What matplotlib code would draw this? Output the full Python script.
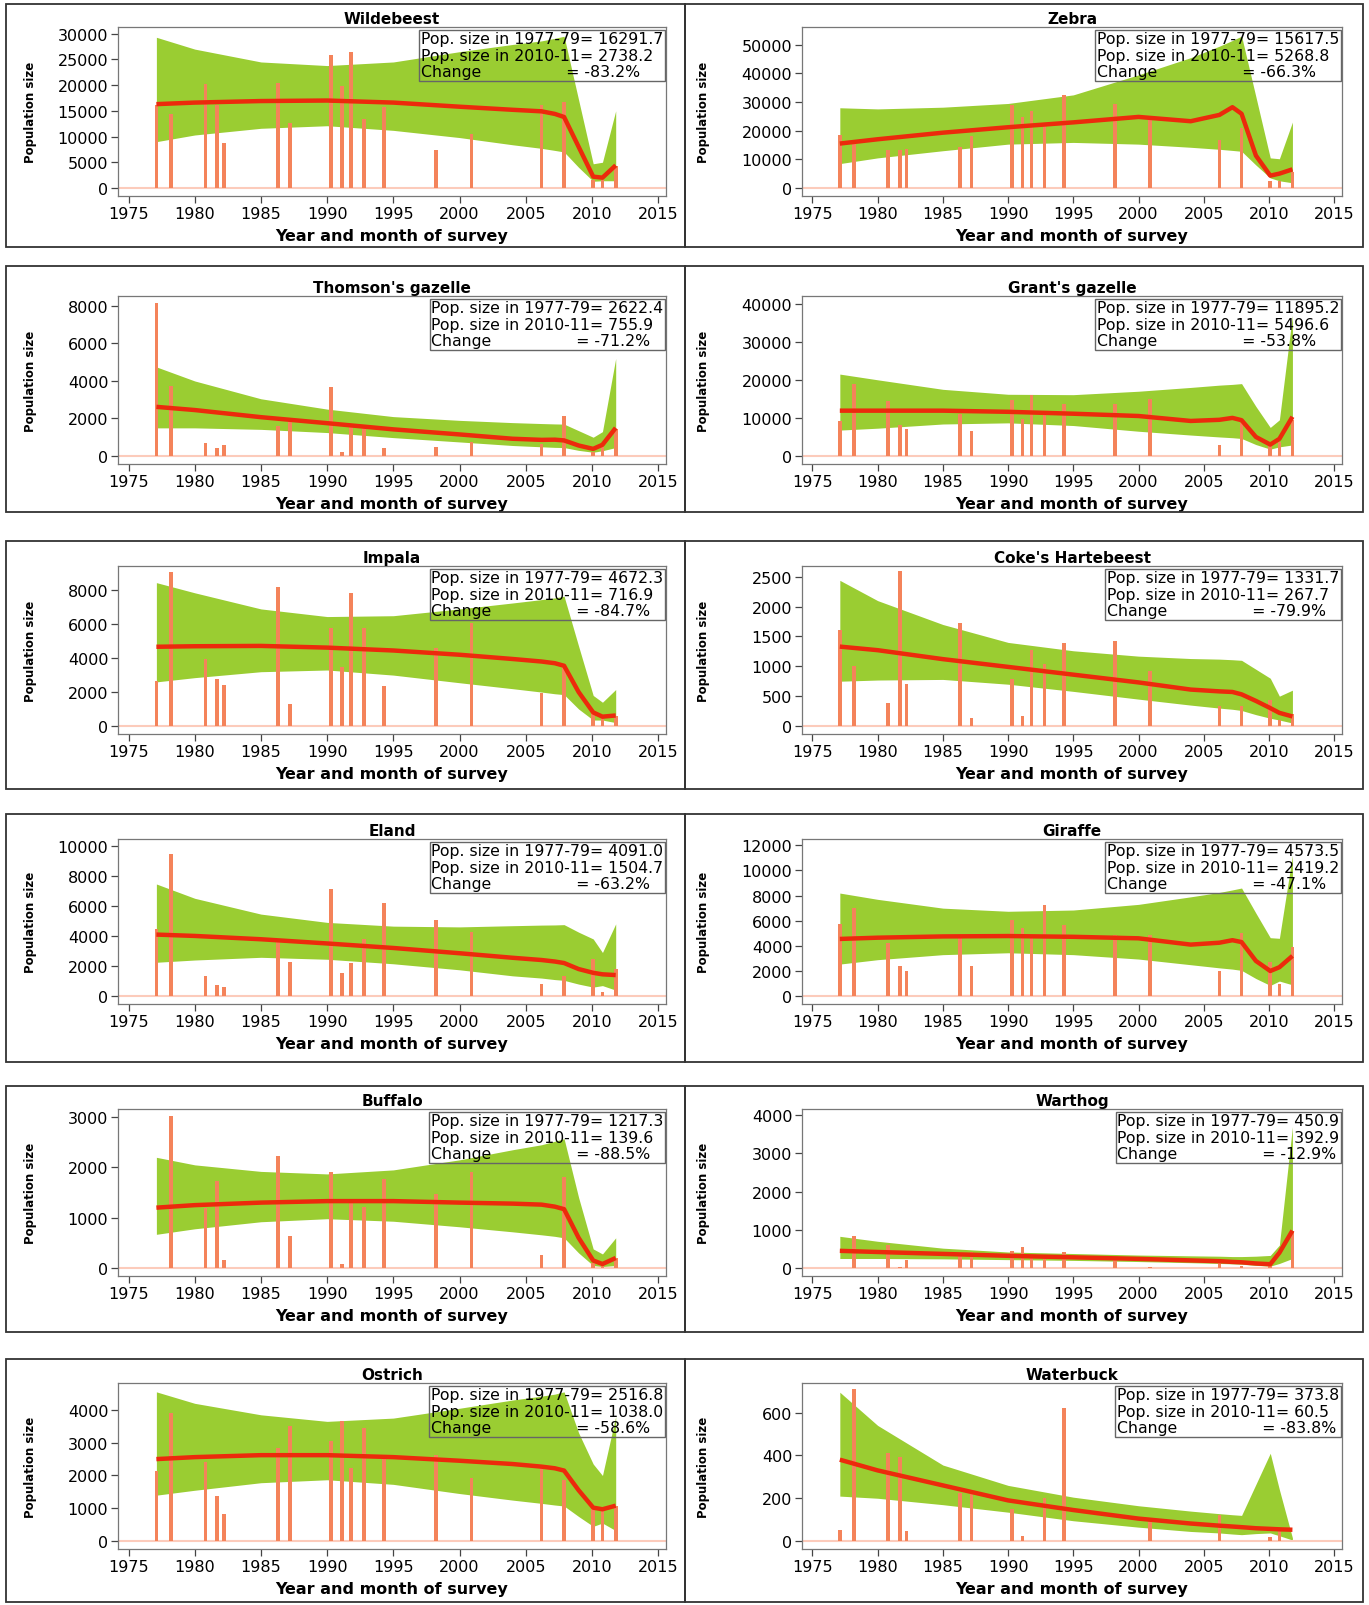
import matplotlib.pyplot as plt
from matplotlib.patches import Rectangle
import numpy as np

plt.rcParams['font.family'] = ['DejaVu Sans']

# survey dates shared by all species (decimal years)
SURVEY_YEARS = [1977.1, 1978.2, 1980.8, 1981.7, 1982.2, 1986.3, 1987.2, 1990.3, 1991.1,
                1991.8, 1992.8, 1994.3, 1998.2, 2000.9, 2006.2, 2007.9, 2010.1, 2010.8, 2011.8]
CURVE_YEARS = [1977.1, 1980, 1985, 1990, 1995, 2000, 2004, 2006.2, 2007.2, 2007.9,
               2009, 2010.1, 2010.8, 2011.8]

SPECIES = ["Wildebeest", "Zebra", "Thomson's gazelle", "Grant's gazelle", "Impala",
           "Coke's Hartebeest", "Eland", "Giraffe", "Buffalo", "Warthog", "Ostrich", "Waterbuck"]

# survey counts
wildebeest_counts = [16100, 14350, 20200, 16100, 8800, 20500, 12600, 25900, 19800, 26400, 13500, 15700, 7300, 10400, 16100, 16800, 1500, 1500, 4300]
zebra_counts = [18500, 15300, 13100, 13100, 13600, 14200, 18300, 29000, 24700, 26700, 21600, 32300, 29400, 24100, 16900, 20900, 2600, 2600, 5500]
thomson_counts = [8180, 3750, 700, 420, 600, 1600, 1900, 3700, 230, 1550, 1550, 420, 480, 750, 650, 2150, 200, 500, 1450]
grant_counts = [9200, 18800, 14400, 8100, 7200, 11000, 6500, 14800, 9700, 16100, 11600, 13600, 13700, 15000, 2900, 8700, 2900, 3700, 9400]
impala_counts = [2670, 9080, 3940, 2750, 2400, 8200, 1270, 5800, 3500, 7840, 5760, 2350, 4570, 6080, 1960, 3500, 800, 600, 600]
coke_counts = [1610, 1010, 380, 2600, 700, 1720, 140, 780, 160, 1270, 1040, 1390, 1430, 920, 330, 340, 440, 100, 200]
eland_counts = [4460, 9450, 1360, 740, 600, 3650, 2280, 7150, 1530, 2200, 3800, 6170, 5080, 4250, 790, 1310, 2500, 300, 1800]
giraffe_counts = [5700, 7000, 4250, 2360, 2000, 4780, 2400, 6040, 5430, 4780, 7270, 5640, 4900, 4900, 2000, 5000, 2700, 1000, 3940]
buffalo_counts = [0, 3030, 1200, 1720, 150, 2230, 630, 1900, 85, 1330, 1220, 1760, 1480, 1900, 260, 1810, 100, 50, 200]
warthog_counts = [0, 850, 600, 40, 220, 370, 410, 450, 540, 320, 280, 410, 240, 20, 240, 60, 100, 0, 980]
ostrich_counts = [2140, 3900, 2410, 1370, 830, 2840, 3500, 3050, 3650, 2220, 3450, 2640, 2640, 1910, 2270, 1870, 1080, 980, 1080]
waterbuck_counts = [51, 712, 409, 392, 46, 225, 225, 151, 23, 0, 200, 620, 0, 89, 123, 0, 20, 58, 0]

# fitted trend
wildebeest_trend = [16300, 16600, 16900, 17000, 16600, 15800, 15200, 14900, 14400, 13800, 8000, 2200, 2000, 4400]
zebra_trend = [15500, 17000, 19300, 21200, 22900, 24800, 23300, 25500, 28200, 25900, 11300, 4300, 5000, 6500]
thomson_trend = [2620, 2450, 2070, 1750, 1420, 1150, 920, 860, 870, 830, 560, 380, 600, 1500]
grant_trend = [11900, 11900, 11900, 11600, 11100, 10500, 9200, 9500, 10000, 9400, 5000, 3000, 4500, 10300]
impala_trend = [4670, 4700, 4720, 4620, 4450, 4200, 3950, 3800, 3700, 3550, 2000, 800, 550, 620]
coke_trend = [1330, 1270, 1120, 990, 860, 730, 610, 580, 570, 530, 420, 300, 220, 160]
eland_trend = [4090, 4000, 3780, 3500, 3200, 2850, 2550, 2400, 2300, 2200, 1800, 1550, 1450, 1400]
giraffe_trend = [4550, 4650, 4750, 4780, 4720, 4600, 4100, 4250, 4450, 4300, 2800, 2000, 2300, 3200]
buffalo_trend = [1200, 1250, 1300, 1330, 1330, 1300, 1280, 1260, 1220, 1170, 600, 150, 80, 200]
warthog_trend = [450, 420, 370, 320, 280, 240, 200, 180, 160, 150, 120, 100, 400, 980]
ostrich_trend = [2500, 2560, 2620, 2620, 2560, 2450, 2350, 2270, 2220, 2150, 1550, 1020, 970, 1080]
waterbuck_trend = [380, 330, 260, 190, 145, 105, 82, 72, 68, 65, 60, 57, 55, 53]

# upper edge of the band
wildebeest_upper = [29300, 27000, 24500, 23800, 24500, 26500, 27900, 28600, 29100, 29500, 17100, 4700, 5000, 15000]
zebra_upper = [28000, 27600, 28200, 29500, 32500, 39500, 45500, 49500, 51500, 53000, 31800, 10500, 10200, 23000]
thomson_upper = [4750, 4000, 3050, 2500, 2100, 1900, 1780, 1730, 1710, 1700, 1350, 1000, 1300, 5200]
grant_upper = [21500, 20000, 17500, 16200, 16100, 17000, 18000, 18600, 18800, 19000, 13000, 7500, 9500, 37000]
impala_upper = [8450, 7850, 6900, 6450, 6500, 6900, 7250, 7450, 7550, 7650, 4700, 1800, 1400, 2150]
coke_upper = [2440, 2100, 1700, 1400, 1260, 1170, 1130, 1120, 1110, 1100, 950, 800, 500, 600]
eland_upper = [7450, 6500, 5450, 4900, 4650, 4600, 4680, 4720, 4730, 4750, 4250, 3800, 2900, 4800]
giraffe_upper = [8200, 7700, 7000, 6750, 6850, 7300, 7900, 8250, 8450, 8600, 6600, 4650, 4600, 11200]
buffalo_upper = [2200, 2050, 1920, 1870, 1950, 2150, 2350, 2450, 2520, 2570, 1400, 380, 280, 600]
warthog_upper = [830, 700, 520, 420, 380, 340, 320, 310, 300, 300, 310, 330, 600, 3700]
ostrich_upper = [4550, 4200, 3850, 3650, 3750, 4050, 4300, 4420, 4480, 4550, 3300, 2350, 2000, 3800]
waterbuck_upper = [695, 540, 355, 260, 205, 165, 140, 128, 123, 120, 265, 410, 240, 15]

# lower edge of the band
wildebeest_lower = [9000, 10300, 11600, 12100, 11200, 9800, 8400, 7700, 7300, 7000, 4000, 1300, 1400, 1400]
zebra_lower = [8500, 10500, 13000, 15300, 15900, 15300, 14200, 13500, 13100, 12800, 8000, 3500, 2500, 1800]
thomson_lower = [1500, 1500, 1420, 1250, 980, 750, 560, 490, 460, 450, 300, 200, 280, 450]
grant_lower = [6800, 7300, 8400, 8700, 8000, 6500, 5500, 5000, 4800, 4600, 3000, 1800, 2400, 2900]
impala_lower = [2600, 2850, 3200, 3300, 3000, 2550, 2200, 2000, 1900, 1850, 1000, 350, 350, 200]
coke_lower = [750, 770, 780, 700, 580, 450, 350, 300, 280, 260, 190, 130, 100, 50]
eland_lower = [2250, 2400, 2580, 2450, 2150, 1750, 1350, 1200, 1100, 1050, 800, 600, 700, 400]
giraffe_lower = [2550, 2900, 3300, 3450, 3300, 2950, 2500, 2250, 2150, 2050, 1400, 850, 1200, 900]
buffalo_lower = [670, 780, 920, 980, 930, 820, 720, 660, 630, 600, 300, 50, 30, 50]
warthog_lower = [250, 250, 240, 220, 200, 170, 140, 120, 110, 100, 70, 50, 120, 250]
ostrich_lower = [1400, 1550, 1780, 1870, 1730, 1450, 1250, 1150, 1100, 1070, 750, 450, 550, 320]
waterbuck_lower = [210, 200, 170, 135, 95, 65, 45, 38, 33, 30, 35, 38, 25, 5]

POP_1977 = [16291.7, 15617.5, 2622.4, 11895.2, 4672.3, 1331.7, 4091.0, 4573.5, 1217.3, 450.9, 2516.8, 373.8]
POP_2010 = [2738.2, 5268.8, 755.9, 5496.6, 716.9, 267.7, 1504.7, 2419.2, 139.6, 392.9, 1038.0, 60.5]
CHANGE = [-83.2, -66.3, -71.2, -53.8, -84.7, -79.9, -63.2, -47.1, -88.5, -12.9, -58.6, -83.8]

Y_TOP = [31300, 56200, 8530, 42000, 9430, 2680, 10440, 12500, 3160, 4160, 4820, 738]
Y_STEP = [5000, 10000, 2000, 10000, 2000, 500, 2000, 2000, 1000, 1000, 1000, 200]

COUNTS = [wildebeest_counts, zebra_counts, thomson_counts, grant_counts, impala_counts, coke_counts,
          eland_counts, giraffe_counts, buffalo_counts, warthog_counts, ostrich_counts, waterbuck_counts]
TRENDS = [wildebeest_trend, zebra_trend, thomson_trend, grant_trend, impala_trend, coke_trend,
          eland_trend, giraffe_trend, buffalo_trend, warthog_trend, ostrich_trend, waterbuck_trend]
UPPERS = [wildebeest_upper, zebra_upper, thomson_upper, grant_upper, impala_upper, coke_upper,
          eland_upper, giraffe_upper, buffalo_upper, warthog_upper, ostrich_upper, waterbuck_upper]
LOWERS = [wildebeest_lower, zebra_lower, thomson_lower, grant_lower, impala_lower, coke_lower,
          eland_lower, giraffe_lower, buffalo_lower, warthog_lower, ostrich_lower, waterbuck_lower]

# layout in pixels of the 1369x1606 canvas
W, H = 1369, 1606
COL_X = [(118, 666), (802, 1342)]
ROW_Y = [(28, 197), (297, 465), (567, 735), (840, 1005), (1110, 1277), (1384, 1550)]
COL_BORDER = [(6, 685), (685, 1363)]
ROW_BORDER = [(5, 248), (267, 513), (542, 790), (815, 1063), (1087, 1333), (1360, 1603)]
YLABEL_X = [-0.148, -0.17]

BAR_COLOR = '#F4835A'
BAND_COLOR = '#9ACD32'
LINE_COLOR = '#EC2A0C'
BASE_COLOR = '#FCCBBB'

fig = plt.figure(figsize=(W / 100, H / 100), dpi=100)

for i, name in enumerate(SPECIES):
    row, col = divmod(i, 2)
    x0, x1 = COL_X[col]
    y0, y1 = ROW_Y[row]

    # panel frame
    bx0, bx1 = COL_BORDER[col]
    by0, by1 = ROW_BORDER[row]
    fig.patches.append(Rectangle((bx0 / W, 1 - by1 / H), (bx1 - bx0) / W, (by1 - by0) / H,
                                 transform=fig.transFigure, fill=False,
                                 edgecolor='#333333', linewidth=1.3))

    ax = fig.add_axes([x0 / W, 1 - y1 / H, (x1 - x0) / W, (y1 - y0) / H])

    ax.fill_between(CURVE_YEARS, LOWERS[i], UPPERS[i], color=BAND_COLOR, linewidth=0, zorder=1)
    ax.bar(SURVEY_YEARS, COUNTS[i], width=0.28, color=BAR_COLOR, linewidth=0, zorder=2)
    ax.axhline(0, color=BASE_COLOR, linewidth=1.5, zorder=1.5)
    ax.plot(CURVE_YEARS, TRENDS[i], color=LINE_COLOR, linewidth=3.2, zorder=3,
            solid_capstyle='butt')

    top = Y_TOP[i]
    ax.set_ylim(-0.05 * top, top)
    ax.set_xlim(1974.2, 2015.6)
    ax.set_xticks(np.arange(1975, 2016, 5))
    ax.set_yticks(np.arange(0, top, Y_STEP[i]))

    for sp in ax.spines.values():
        sp.set_color('#777777')
        sp.set_linewidth(0.9)
    ax.tick_params(direction='out', length=5, width=0.9, color='#444444',
                   labelsize=11.5, pad=2)

    ax.set_title(name, fontsize=11, fontweight='bold', pad=3)
    ax.set_xlabel('Year and month of survey', fontsize=11.5, fontweight='bold', labelpad=5)
    ax.set_ylabel('Population size', fontsize=8.5, fontweight='bold')
    ax.yaxis.set_label_coords(YLABEL_X[col], 0.5)

    txt = (f"Pop. size in 1977-79= {POP_1977[i]:.1f}\n"
           f"Pop. size in 2010-11= {POP_2010[i]:.1f}\n"
           f"Change                 = {CHANGE[i]:.1f}%")
    ax.annotate(txt, xy=(1, 1), xycoords='axes fraction', xytext=(-2, -3),
                textcoords='offset points', ha='right', va='top', multialignment='left',
                fontsize=11.3, linespacing=1.12, zorder=5,
                bbox=dict(boxstyle='square,pad=0.1', facecolor='none',
                          edgecolor='#666666', linewidth=1))

fig.savefig('out.png', dpi=100)
